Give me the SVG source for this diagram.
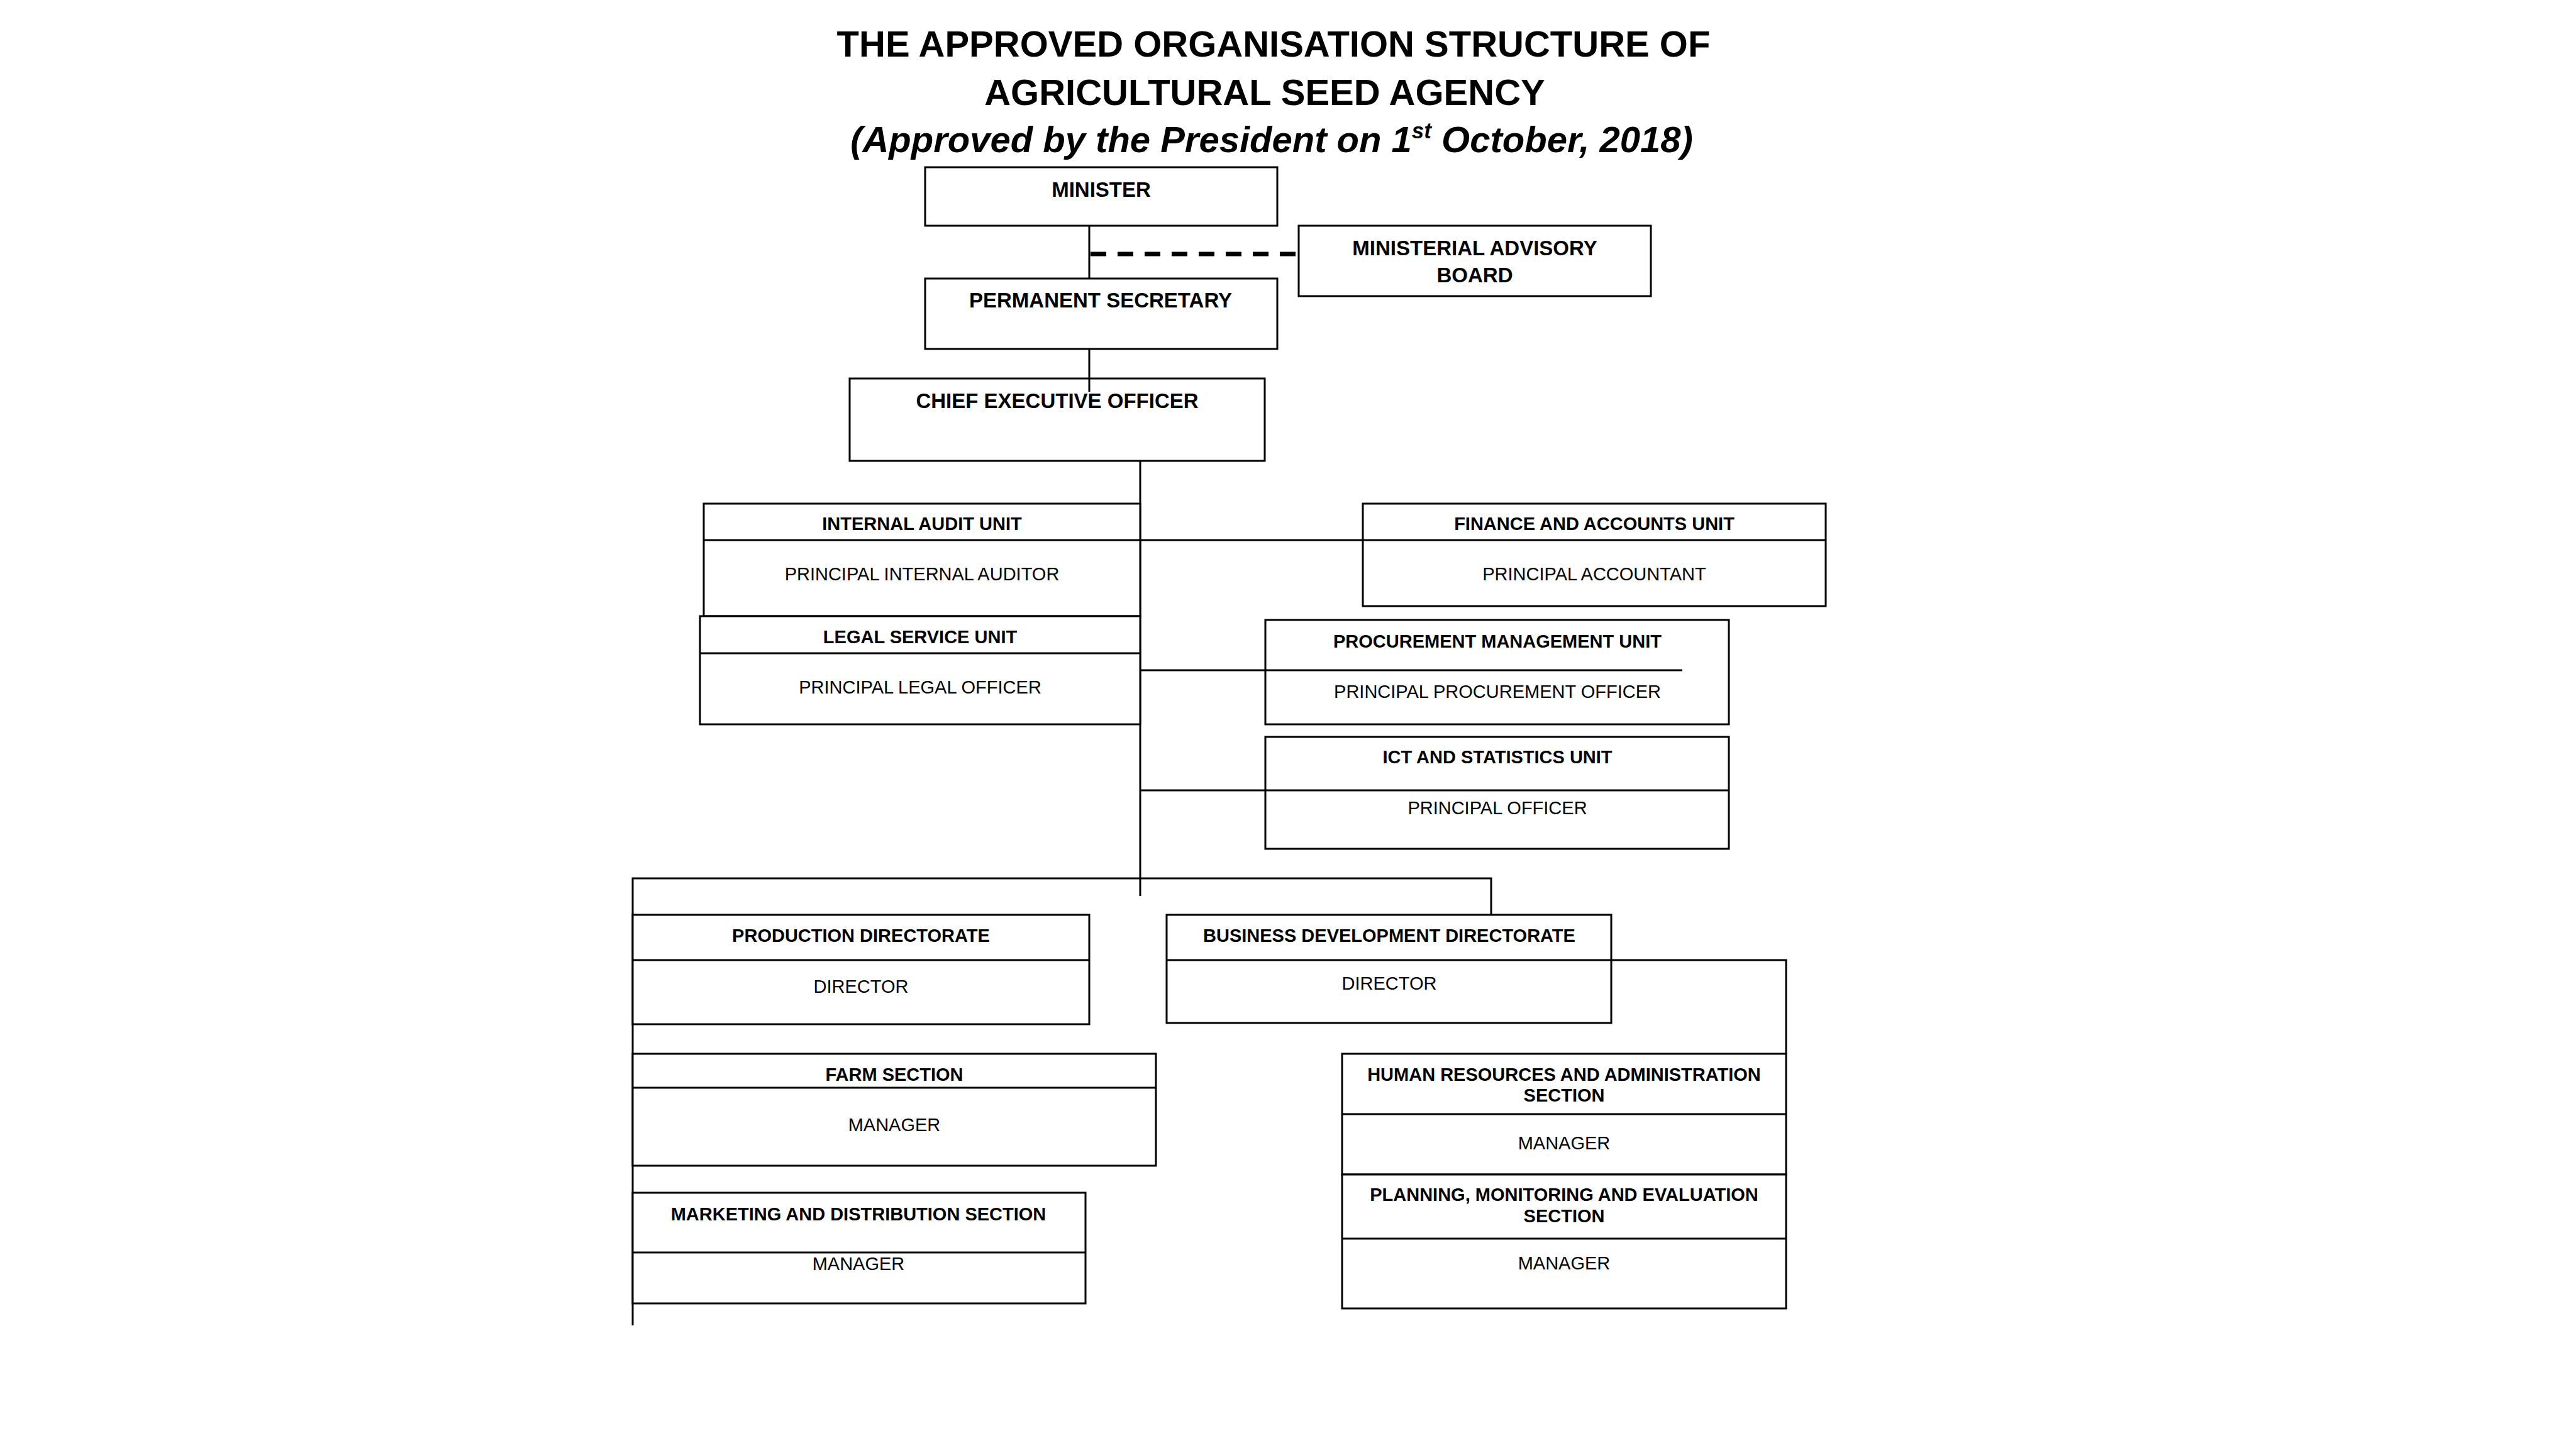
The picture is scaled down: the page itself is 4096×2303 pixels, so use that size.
<svg xmlns="http://www.w3.org/2000/svg" width="4096" height="2303" viewBox="0 0 4096 2303">
<style>
.box{fill:#fff;stroke:#000;stroke-width:3}
.div{stroke:#000;stroke-width:3;fill:none}
.con{stroke:#000;stroke-width:3;fill:none}
.dash{stroke:#000;stroke-width:7;stroke-dasharray:25 18;fill:none}
text{font-family:"Liberation Sans",Arial,sans-serif;fill:#000;text-anchor:middle}
.title{font-size:58px;font-weight:bold}
.sub{font-size:58px;font-weight:bold;font-style:italic}
.big{font-size:33px;font-weight:bold}
.hd{font-size:29px;font-weight:bold}
.rg{font-size:29px}
</style>
<rect width="4096" height="2303" fill="#fff"/>
<g id="title">
<text class="title" x="2025" y="90">THE APPROVED ORGANISATION STRUCTURE OF</text>
<text class="title" x="2011" y="167">AGRICULTURAL SEED AGENCY</text>
<text class="sub" x="2022" y="242">(Approved by the President on 1<tspan font-size="35" dy="-22">st</tspan><tspan dy="22"> October, 2018)</tspan></text>
</g>
<g id="connectors">
<line class="con" x1="1732" y1="359" x2="1732" y2="447"/>
<line class="dash" x1="1734" y1="404" x2="2065" y2="404"/>
<line class="con" x1="1732" y1="549" x2="1732" y2="623"/>
<line class="con" x1="1813" y1="727" x2="1813" y2="1425"/>
<line class="con" x1="1732" y1="859" x2="2167" y2="859"/>
<line class="con" x1="1813" y1="1066" x2="2012" y2="1066"/>
<line class="con" x1="1813" y1="1257" x2="2012" y2="1257"/>
<polyline class="con" points="1006,2108 1006,1397 2371,1397 2371,1455"/>
<polyline class="con" points="2562,1527 2840,1527 2840,1676"/>
</g>
<g id="minister">
<rect class="box" x="1471" y="266" width="560" height="93"/>
<text class="big" x="1751" y="313">MINISTER</text>
</g>
<g id="advisory-board">
<rect class="box" x="2065" y="359" width="560" height="112"/>
<text class="big" x="2345" y="406">MINISTERIAL ADVISORY</text>
<text class="big" x="2345" y="449">BOARD</text>
</g>
<g id="permanent-secretary">
<rect class="box" x="1471" y="443" width="560" height="112"/>
<text class="big" x="1750" y="489">PERMANENT SECRETARY</text>
</g>
<g id="ceo">
<rect class="box" x="1351" y="602" width="660" height="131"/>
<text class="big" x="1681" y="649">CHIEF EXECUTIVE OFFICER</text>
</g>
<line class="con" x1="1732" y1="602" x2="1732" y2="623"/>
<g id="internal-audit">
<rect class="box" x="1119" y="801" width="694" height="179"/>
<line class="div" x1="1119" y1="859" x2="1813" y2="859"/>
<text class="hd" x="1466" y="843">INTERNAL AUDIT UNIT</text>
<text class="rg" x="1466" y="923">PRINCIPAL INTERNAL AUDITOR</text>
</g>
<g id="finance">
<rect class="box" x="2167" y="801" width="736" height="163"/>
<line class="div" x1="2167" y1="859" x2="2903" y2="859"/>
<text class="hd" x="2535" y="843">FINANCE AND ACCOUNTS UNIT</text>
<text class="rg" x="2535" y="923">PRINCIPAL ACCOUNTANT</text>
</g>
<g id="legal">
<rect class="box" x="1113" y="980" width="700" height="172"/>
<line class="div" x1="1113" y1="1039" x2="1813" y2="1039"/>
<text class="hd" x="1463" y="1023">LEGAL SERVICE UNIT</text>
<text class="rg" x="1463" y="1103">PRINCIPAL LEGAL OFFICER</text>
</g>
<g id="procurement">
<rect class="box" x="2012" y="986" width="737" height="166"/>
<line class="div" x1="2012" y1="1066" x2="2675" y2="1066"/>
<text class="hd" x="2381" y="1030">PROCUREMENT MANAGEMENT UNIT</text>
<text class="rg" x="2381" y="1110">PRINCIPAL PROCUREMENT OFFICER</text>
</g>
<g id="ict">
<rect class="box" x="2012" y="1172" width="737" height="178"/>
<line class="div" x1="2012" y1="1257" x2="2749" y2="1257"/>
<text class="hd" x="2381" y="1214">ICT AND STATISTICS UNIT</text>
<text class="rg" x="2381" y="1295">PRINCIPAL OFFICER</text>
</g>
<g id="production">
<rect class="box" x="1006" y="1455" width="726" height="174"/>
<line class="div" x1="1006" y1="1527" x2="1732" y2="1527"/>
<text class="hd" x="1369" y="1498">PRODUCTION DIRECTORATE</text>
<text class="rg" x="1369" y="1579">DIRECTOR</text>
</g>
<g id="business-development">
<rect class="box" x="1855" y="1455" width="707" height="172"/>
<line class="div" x1="1855" y1="1527" x2="2562" y2="1527"/>
<text class="hd" x="2209" y="1498">BUSINESS DEVELOPMENT DIRECTORATE</text>
<text class="rg" x="2209" y="1574">DIRECTOR</text>
</g>
<g id="farm">
<rect class="box" x="1006" y="1676" width="832" height="178"/>
<line class="div" x1="1006" y1="1730" x2="1838" y2="1730"/>
<text class="hd" x="1422" y="1719">FARM SECTION</text>
<text class="rg" x="1422" y="1799">MANAGER</text>
</g>
<g id="marketing">
<rect class="box" x="1006" y="1897" width="720" height="176"/>
<line class="div" x1="1006" y1="1992" x2="1726" y2="1992"/>
<text class="hd" x="1365" y="1941">MARKETING AND DISTRIBUTION SECTION</text>
<text class="rg" x="1365" y="2020">MANAGER</text>
</g>
<g id="human-resources">
<rect class="box" x="2134" y="1676" width="706" height="192"/>
<line class="div" x1="2134" y1="1772" x2="2840" y2="1772"/>
<text class="hd" x="2487" y="1719">HUMAN RESOURCES AND ADMINISTRATION</text>
<text class="hd" x="2487" y="1752">SECTION</text>
<text class="rg" x="2487" y="1828">MANAGER</text>
</g>
<g id="planning">
<rect class="box" x="2134" y="1868" width="706" height="213"/>
<line class="div" x1="2134" y1="1970" x2="2840" y2="1970"/>
<text class="hd" x="2487" y="1910">PLANNING, MONITORING AND EVALUATION</text>
<text class="hd" x="2487" y="1944">SECTION</text>
<text class="rg" x="2487" y="2019">MANAGER</text>
</g>
</svg>
